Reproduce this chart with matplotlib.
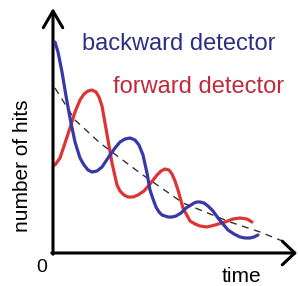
"""
Sketch of detector hit rates: backward vs forward detector, with decay envelope.
"""
import numpy as np
import matplotlib
matplotlib.use("Agg")
import matplotlib.pyplot as plt

# arbitrary units (time, number of hits)
blue_t = [2, 5, 9, 13, 17, 22, 27, 31, 35, 39, 44, 49, 55, 62, 67, 72, 77, 82, 86,
          90, 94, 97, 100, 103, 106, 109, 112, 115, 119, 123, 128, 133, 138, 141,
          144, 147, 151, 155, 160, 165, 170, 175, 181, 187, 192, 197, 201, 205]
blue_h = [211, 201, 181, 157, 135, 111, 95, 88, 83, 81, 82, 86, 95, 105, 111, 114,
          115, 113, 108, 98, 80, 63, 54, 46, 41, 38, 37, 36, 36, 37, 40, 45, 48, 50,
          51, 51, 50, 47, 42, 35, 29, 23, 19, 16, 15, 15, 16, 18]

red_t = [2, 7, 12, 17, 22, 27, 31, 35, 39, 43, 46, 49, 52, 55, 59, 64, 67, 71, 75,
         80, 85, 91, 97, 104, 108, 112, 116, 119, 122, 125, 130, 137, 142, 147, 154,
         162, 172, 180, 187, 194, 199]
red_h = [88, 95, 110, 125, 141, 153, 159, 162, 163, 161, 156, 147, 130, 113, 90, 68,
         62, 58, 56, 56, 58, 62, 69, 78, 82, 84, 83, 79, 72, 63, 45, 32, 29, 27, 26,
         28, 31, 34, 35, 34, 31]

avg_t = [2, 22, 47, 87, 130, 177, 207, 232]
avg_h = [165, 133, 110, 80, 50, 31, 21, 11]

W, H = 298, 286
fig = plt.figure(figsize=(W / 100, H / 100), dpi=100)
ax = fig.add_axes([53 / W, 33 / H, 245 / W, 245 / H])
ax.set_xlim(0, 245)
ax.set_ylim(0, 245)
ax.axis("off")

font = ["Liberation Sans", "DejaVu Sans"]

ax.plot(avg_t, avg_h, color="#333333", lw=1.0, ls=(0, (5, 4)), zorder=2)
ax.plot(red_t, red_h, color="#dd3535", lw=2.3, solid_capstyle="round",
        solid_joinstyle="round", zorder=3)
ax.plot(blue_t, blue_h, color="#3838a8", lw=2.3, solid_capstyle="round",
        solid_joinstyle="round", zorder=4)

# axes drawn as arrows
ax.annotate("", xy=(0, 245), xytext=(0, -1.2), clip_on=False,
            arrowprops=dict(arrowstyle="->,head_length=1.2,head_width=0.7",
                            lw=2.2, color="black", shrinkA=0, shrinkB=0))
ax.annotate("", xy=(244, 0), xytext=(-1.2, 0), clip_on=False,
            arrowprops=dict(arrowstyle="->,head_length=0.9,head_width=0.85",
                            lw=2.2, color="black", shrinkA=0, shrinkB=0))

ax.text(29, 203, "backward detector", color="#2c2e85", fontsize=17,
        family=font, va="baseline", ha="left")
ax.text(60, 160, "forward detector", color="#c02a3c", fontsize=17,
        family=font, va="baseline", ha="left")
ax.text(-30, 87, "number of hits", rotation=90, fontsize=15, family=font,
        ha="center", va="center", clip_on=False)
ax.text(-11, -15, "0", fontsize=14, family=font, ha="center", va="center")
ax.text(188, -24, "time", fontsize=15, family=font, ha="center", va="center")

fig.savefig("out.png", dpi=100)
